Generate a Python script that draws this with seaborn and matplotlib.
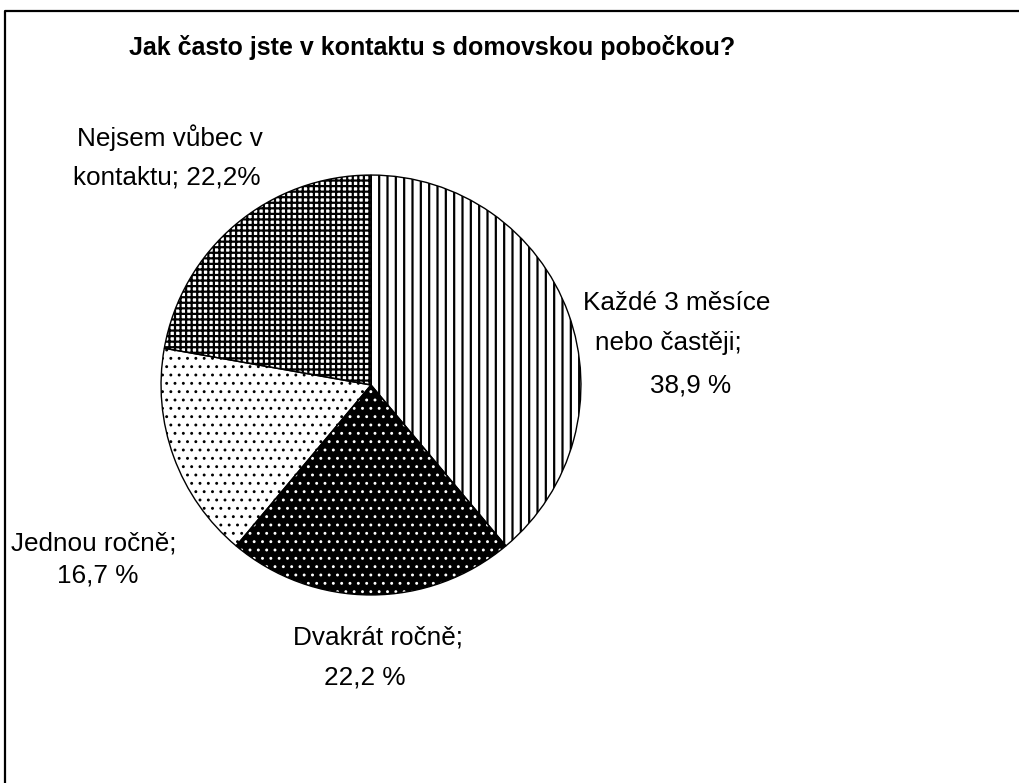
import matplotlib
matplotlib.use("Agg")
import matplotlib.pyplot as plt
import seaborn as sns
from matplotlib.patches import Wedge
from matplotlib.lines import Line2D

# ---- data ----
categories = ["Každé 3 měsíce nebo častěji", "Dvakrát ročně", "Jednou ročně", "Nejsem vůbec v kontaktu"]
values = [38.9, 22.2, 16.7, 22.2]
label_lines = [
    ["Každé 3 měsíce", "nebo častěji;", "38,9 %"],
    ["Dvakrát ročně;", "22,2 %"],
    ["Jednou ročně;", "16,7 %"],
    ["Nejsem vůbec v", "kontaktu; 22,2%"],
]
title = "Jak často jste v kontaktu s domovskou pobočkou?"

# ---- styles / layout ----
hatches = ["||", "..", "..", "+++"]
faces = ["white", "black", "white", "white"]
hatch_cols = ["black", "white", "black", "black"]
hatch_lws = [1.6, 0.9, 0.9, 1.6]
# pixel positions (x center, y center) for each label line
label_pos = [
    [(677, 303), (668, 343), (691, 385)],
    [(378, 637), (365, 677)],
    [(94, 543), (98, 575)],
    [(170, 138), (167, 177)],
]

sns.set_theme(style="white")
plt.rcParams["font.family"] = ["Liberation Sans", "DejaVu Sans"]
plt.rcParams["hatch.linewidth"] = 1.6

W, H = 1019, 783
fig = plt.figure(figsize=(W / 100, H / 100), dpi=100)
fig.patch.set_facecolor("white")

cx, cy, r = 371, 385, 211
ax = fig.add_axes([(cx - r) / W, (H - cy - r) / H, 2 * r / W, 2 * r / H])
wedges, _ = ax.pie(values, startangle=90, counterclock=False, radius=1,
                   wedgeprops=dict(linewidth=0))
for w, ht, fc, hc, hl in zip(wedges, hatches, faces, hatch_cols, hatch_lws):
    w.set_facecolor(fc)
    w.set_edgecolor(hc)
    w.set_hatch(ht)
    w.set_linewidth(0)
    if hasattr(w, "set_hatch_linewidth"):
        w.set_hatch_linewidth(hl)
    ax.add_patch(Wedge(w.center, w.r, w.theta1, w.theta2, fill=False,
                       edgecolor="black", linewidth=1.0))
ax.set_xlim(-1.005, 1.005)
ax.set_ylim(-1.005, 1.005)
ax.axis("off")

def fx(x):
    return x / W

def fy(y):
    return 1 - y / H

for lines, poss in zip(label_lines, label_pos):
    for t, (x, y) in zip(lines, poss):
        fig.text(fx(x), fy(y), t, ha="center", va="center", fontsize=18.8, color="black")

fig.text(fx(432), fy(47), title, ha="center", va="center", fontsize=18, fontweight="bold", color="black")

# outer frame (top and left edges visible)
fig.add_artist(Line2D([fx(4.5), fx(4.5), fx(W + 5)], [fy(H + 5), fy(10.5), fy(10.5)],
                      transform=fig.transFigure, color="black", linewidth=1.6))

fig.savefig("out.png", dpi=100)
